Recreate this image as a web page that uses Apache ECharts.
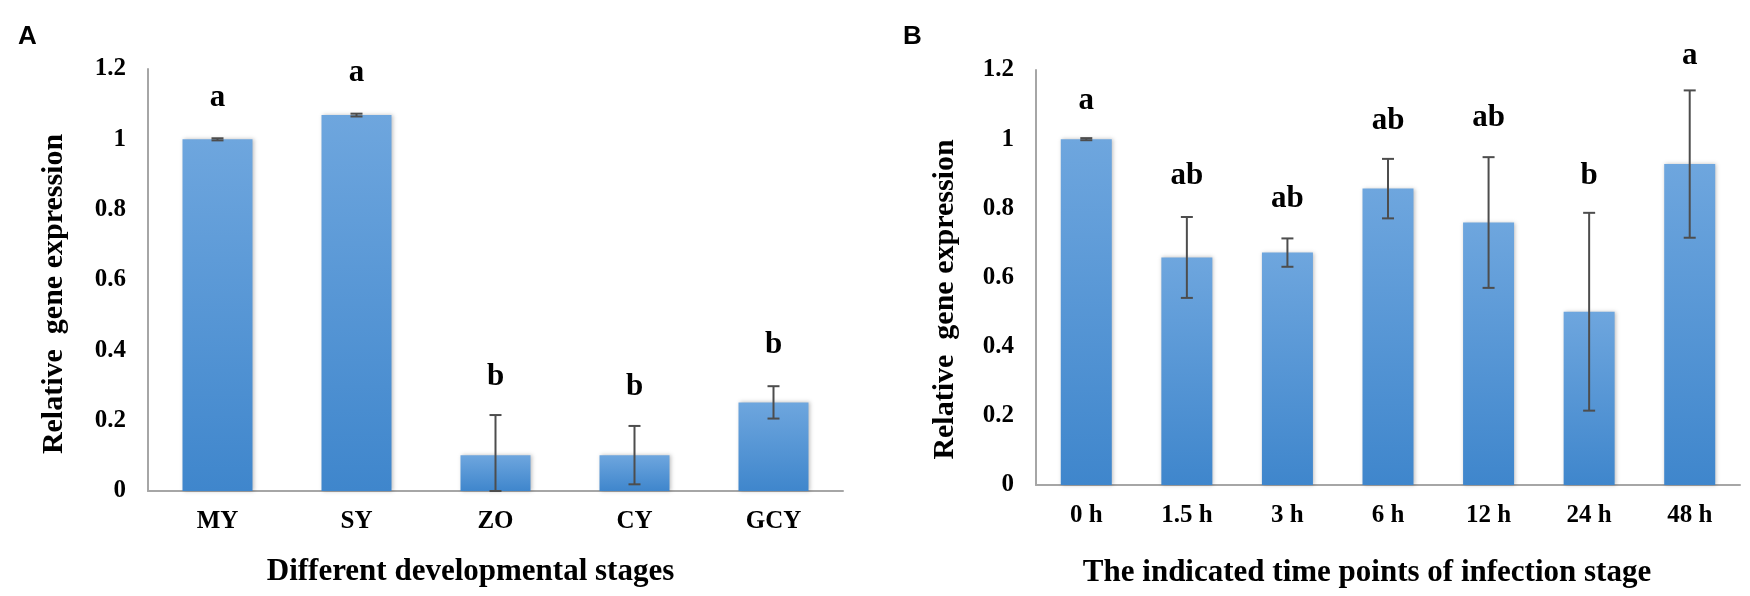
<!DOCTYPE html>
<html>
<head>
<meta charset="utf-8">
<script src="https://cdn.jsdelivr.net/npm/echarts@6/dist/echarts.min.js"></script>
<style>
html,body{margin:0;padding:0;background:#fff;}
#chart{width:1750px;height:596px;}
</style>
</head>
<body>
<div id="chart"></div>
<script>
// Panel A
const stagesA = ['MY', 'SY', 'ZO', 'CY', 'GCY'];
const valuesA = [1.0, 1.069, 0.102, 0.102, 0.252];
const errorsA = [0.003, 0.004, 0.114, 0.083, 0.046];
const lettersA = ['a', 'a', 'b', 'b', 'b'];
const letterPosA = [1.117, 1.189, 0.324, 0.296, 0.415];

// Panel B
const timesB = ['0 h', '1.5 h', '3 h', '6 h', '12 h', '24 h', '48 h'];
const valuesB = [1.0, 0.658, 0.672, 0.857, 0.759, 0.501, 0.928];
const errorsB = [0.003, 0.117, 0.041, 0.086, 0.189, 0.286, 0.213];
const lettersB = ['a', 'ab', 'ab', 'ab', 'ab', 'b', 'a'];
const letterPosB = [1.11, 0.893, 0.828, 1.052, 1.062, 0.893, 1.24];

const yMin = 0, yMax = 1.2, yStep = 0.2;
const serif = "'Times New Roman', 'Liberation Serif', serif";

const barColor = new echarts.graphic.LinearGradient(0, 0, 0, 1, [
  {offset: 0, color: '#6ea6de'},
  {offset: 1, color: '#3f86cc'}
]);

function errorSeries(idx, values, errors) {
  return {
    type: 'custom', xAxisIndex: idx, yAxisIndex: idx, z: 5,
    data: values.map((v, i) => [i, v, errors[i]]),
    renderItem: function (params, api) {
      const i = api.value(0), v = api.value(1), e = api.value(2);
      const top = api.coord([i, v + e]);
      const bot = api.coord([i, Math.max(0, v - e)]);
      const hw = 6;
      const st = {stroke: '#4d4d4d', lineWidth: 2};
      return {type: 'group', children: [
        {type: 'line', shape: {x1: top[0], y1: top[1], x2: bot[0], y2: bot[1]}, style: st},
        {type: 'line', shape: {x1: top[0] - hw, y1: top[1], x2: top[0] + hw, y2: top[1]}, style: st},
        {type: 'line', shape: {x1: bot[0] - hw, y1: bot[1], x2: bot[0] + hw, y2: bot[1]}, style: st}
      ]};
    }
  };
}

function letterSeries(idx, letters, pos) {
  return {
    type: 'custom', xAxisIndex: idx, yAxisIndex: idx, z: 6, clip: false,
    data: pos.map((p, i) => [i, p]),
    renderItem: function (params, api) {
      const c = api.coord([api.value(0), api.value(1)]);
      return {type: 'text', x: c[0], y: c[1], style: {
        text: letters[params.dataIndex], fill: '#000',
        font: 'bold 31px ' + serif, align: 'center', verticalAlign: 'middle'
      }};
    }
  };
}

function xAxisCfg(idx, cats, name, gap, shift) {
  return {
    type: 'category', gridIndex: idx, data: cats,
    axisLine: {lineStyle: {color: '#a6a6a6', width: 2}},
    axisTick: {show: false},
    axisLabel: {color: '#000', fontFamily: serif, fontWeight: 'bold', fontSize: 25, margin: 18},
    name: name, nameLocation: 'middle', nameGap: gap,
    nameTextStyle: {color: '#000', fontFamily: serif, fontWeight: 'bold', fontSize: 31, padding: [0, shift, 0, 0]}
  };
}

function yAxisCfg(idx, gap, shift) {
  return {
    type: 'value', gridIndex: idx, min: yMin, max: yMax, interval: yStep,
    splitLine: {show: false},
    axisTick: {show: false},
    axisLine: {show: true, lineStyle: {color: '#a6a6a6', width: 2}},
    axisLabel: {color: '#000', fontFamily: serif, fontWeight: 'bold', fontSize: 25, margin: 22},
    name: 'Relative  gene expression', nameLocation: 'middle', nameGap: gap, nameRotate: 90,
    nameTextStyle: {color: '#000', fontFamily: serif, fontWeight: 'bold', fontSize: 30, padding: [0, shift, 0, 0]}
  };
}

const chart = echarts.init(document.getElementById('chart'), null, {renderer: 'canvas'});
chart.setOption({
  backgroundColor: '#fff',
  animation: false,
  graphic: [
    {type: 'text', left: 18, top: 24, style: {text: 'A', font: "bold 26px 'Liberation Sans', Arial, sans-serif", fill: '#000'}},
    {type: 'text', left: 903, top: 24, style: {text: 'B', font: "bold 26px 'Liberation Sans', Arial, sans-serif", fill: '#000'}}
  ],
  grid: [
    {left: 148, right: 907, top: 69, bottom: 105},
    {left: 1036, right: 10, top: 70, bottom: 111}
  ],
  xAxis: [
    xAxisCfg(0, stagesA, 'Different developmental stages', 65, 50),
    xAxisCfg(1, timesB, 'The indicated time points of infection stage', 72, 42)
  ],
  yAxis: [
    yAxisCfg(0, 79, 28),
    yAxisCfg(1, 76, 44)
  ],
  series: [
    {type: 'bar', xAxisIndex: 0, yAxisIndex: 0, data: valuesA, barWidth: 70,
     itemStyle: {color: barColor, shadowBlur: 4, shadowColor: 'rgba(0,0,0,0.25)', shadowOffsetX: 1}},
    errorSeries(0, valuesA, errorsA),
    letterSeries(0, lettersA, letterPosA),
    {type: 'bar', xAxisIndex: 1, yAxisIndex: 1, data: valuesB, barWidth: 51,
     itemStyle: {color: barColor, shadowBlur: 4, shadowColor: 'rgba(0,0,0,0.25)', shadowOffsetX: 1}},
    errorSeries(1, valuesB, errorsB),
    letterSeries(1, lettersB, letterPosB)
  ]
});
</script>
</body>
</html>
